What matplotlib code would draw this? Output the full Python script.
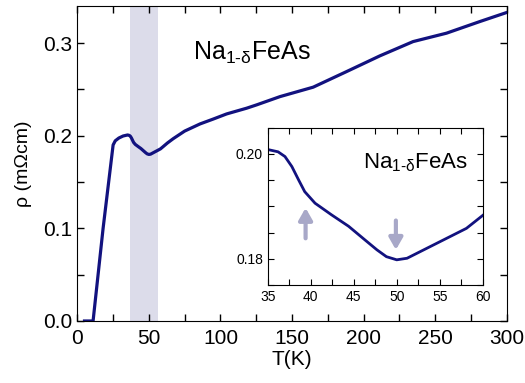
import matplotlib.pyplot as plt
from matplotlib.ticker import MultipleLocator, FormatStrFormatter

plt.rcParams['font.family'] = ['Liberation Sans', 'DejaVu Sans']
plt.rcParams['mathtext.fontset'] = 'custom'
plt.rcParams['mathtext.rm'] = 'Liberation Sans'
plt.rcParams['mathtext.it'] = 'Liberation Sans:italic'

# resistivity of Na(1-d)FeAs
temp = [5, 11, 18, 25, 26.5, 29, 32, 35.1, 36.2, 37.0, 37.8, 38.6, 39.3,
        40.5, 42.4, 44.4, 46.3, 47.7, 48.8, 50.0, 51.2, 53.5, 55.8, 58.1,
        59.1, 60.1, 63, 67, 75, 85.7, 95, 104.3, 118.3, 125.3, 141.6, 164.8,
        188.1, 211.4, 234.6, 258, 281.2, 300]
rho = [0.0, 0.0, 0.1, 0.190, 0.1945, 0.1975, 0.1997, 0.2008, 0.2004, 0.1995,
       0.1976, 0.1950, 0.1928, 0.1906, 0.1884, 0.1862, 0.1836, 0.1817,
       0.1804, 0.1798, 0.1801, 0.1820, 0.1839, 0.1858, 0.1871, 0.1884,
       0.1922, 0.1968, 0.2050, 0.2127, 0.2180, 0.2235, 0.2297, 0.2333,
       0.2422, 0.2524, 0.2692, 0.2862, 0.3016, 0.3107, 0.3232, 0.333]

band = (36.8, 56.1)
arrow_up = (39.4, 0.1839, 0.1897)
arrow_down = (49.9, 0.1873, 0.1817)

line_color = '#12127f'
shade_color = '#dcdcea'
arrow_color = '#a8a8c8'

fig = plt.figure(figsize=(5.25, 3.83), dpi=100)
ax = fig.add_axes([0.1473, 0.1619, 0.8178, 0.8224])

ax.axvspan(band[0], band[1], color=shade_color, lw=0)
ax.plot(temp, rho, color=line_color, lw=2.3, solid_joinstyle='round')
ax.set_xlim(0, 300)
ax.set_ylim(0, 0.34)
ax.xaxis.set_major_locator(MultipleLocator(50))
ax.xaxis.set_minor_locator(MultipleLocator(25))
ax.yaxis.set_major_locator(MultipleLocator(0.1))
ax.yaxis.set_minor_locator(MultipleLocator(0.05))
ax.yaxis.set_major_formatter(FormatStrFormatter('%.1f'))
ax.tick_params(which='both', direction='in', top=True, right=True,
               length=5, width=1, labelsize=15)
ax.tick_params(axis='x', pad=6)
ax.set_xlabel('T(K)', fontsize=15, labelpad=1)
ax.set_ylabel('ρ (mΩcm)', fontsize=14, labelpad=8)
ax.text(80.8, 0.282, r'$\mathrm{Na_{1\text{-}\delta}FeAs}$', fontsize=18)

ins = fig.add_axes([0.51, 0.2559, 0.4095, 0.4107])
ins.plot(temp, rho, color=line_color, lw=2.0, solid_joinstyle='round')
ins.set_xlim(35, 60)
ins.set_ylim(0.175, 0.205)
ins.xaxis.set_major_locator(MultipleLocator(5))
ins.xaxis.set_minor_locator(MultipleLocator(2.5))
ins.yaxis.set_major_locator(MultipleLocator(0.02))
ins.yaxis.set_minor_locator(MultipleLocator(0.005))
ins.yaxis.set_major_formatter(FormatStrFormatter('%.2f'))
ins.tick_params(which='both', direction='in', top=True, right=True,
                length=4, width=0.8, labelsize=10)
ins.text(0.445, 0.742, r'$\mathrm{Na_{1\text{-}\delta}FeAs}$', fontsize=16,
         transform=ins.transAxes)

for x, y0, y1 in [arrow_up, arrow_down]:
    ins.annotate('', xy=(x, y1), xytext=(x, y0),
                 arrowprops=dict(arrowstyle='-|>,head_width=0.4,head_length=0.7',
                                 color=arrow_color, lw=3,
                                 shrinkA=0, shrinkB=0))

fig.savefig('out.png', dpi=100)
